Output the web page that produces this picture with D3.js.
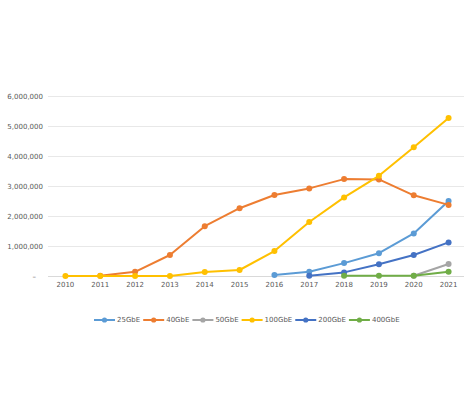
<!DOCTYPE html>
<html>
<head>
<meta charset="utf-8">
<script src="https://cdn.jsdelivr.net/npm/d3@7"></script>
<style>
  body { margin: 0; background: #fff; }
  text { font-family: "DejaVu Sans", sans-serif; }
</style>
</head>
<body>
<div id="chart"></div>
<script>
// Data
const YEARS = ["2010", "2011", "2012", "2013", "2014", "2015", "2016", "2017", "2018", "2019", "2020", "2021"];
const Y_TICKS = [0, 1000000, 2000000, 3000000, 4000000, 5000000, 6000000];
const SERIES_NAMES = ["25GbE", "40GbE", "50GbE", "100GbE", "200GbE", "400GbE"];
const SERIES_COLORS = ["#5b9bd5", "#ed7d31", "#a5a5a5", "#ffc000", "#4472c4", "#70ad47"];

// null = no value that year
const VALUES_25G = [null, null, null, null, null, null, 30000, 140000, 430000, 760000, 1420000, 2500000];
const VALUES_40G = [null, 10000, 140000, 700000, 1660000, 2260000, 2700000, 2920000, 3230000, 3220000, 2690000, 2370000];
const VALUES_50G = [null, null, null, null, null, null, null, null, null, null, 10000, 400000];
const VALUES_100G = [0, 0, 0, 0, 130000, 200000, 830000, 1800000, 2620000, 3340000, 4290000, 5270000];
const VALUES_200G = [null, null, null, null, null, null, null, 10000, 120000, 390000, 700000, 1120000];
const VALUES_400G = [null, null, null, null, null, null, null, null, 10000, 10000, 10000, 140000];

const SERIES_VALUES = [VALUES_25G, VALUES_40G, VALUES_50G, VALUES_100G, VALUES_200G, VALUES_400G];

const WIDTH = 464, HEIGHT = 400;
const PLOT = { left: 48, right: 466, top: 96, bottom: 276 };
const TEXT_COLOR = "#595959";

const svg = d3.select("#chart")
  .append("svg")
  .attr("width", WIDTH)
  .attr("height", HEIGHT);

const x = d3.scaleBand().domain(YEARS).range([PLOT.left, PLOT.right]);
const y = d3.scaleLinear().domain([0, 6000000]).range([PLOT.bottom, PLOT.top]);
const xc = (year) => x(year) + x.bandwidth() / 2;

// gridlines
svg.append("g")
  .selectAll("line")
  .data(Y_TICKS)
  .join("line")
  .attr("x1", PLOT.left)
  .attr("x2", PLOT.right)
  .attr("y1", (d) => Math.round(y(d)) + 0.5)
  .attr("y2", (d) => Math.round(y(d)) + 0.5)
  .attr("stroke", (d) => (d === 0 ? "#d9d9d9" : "#e8e8e8"))
  .attr("stroke-width", 1);

// y axis labels
const yAxis = svg.append("g")
  .attr("transform", `translate(${PLOT.left - 5},0)`)
  .call(d3.axisLeft(y).tickValues(Y_TICKS).tickSize(0).tickPadding(0)
    .tickFormat((d) => (d === 0 ? "–" : d3.format(",")(d))));
yAxis.select(".domain").remove();
yAxis.selectAll("text")
  .attr("fill", TEXT_COLOR)
  .style("font-size", "7px")
  .attr("dx", (d) => (d === 0 ? -7 : 0));

// x axis labels
const xAxis = svg.append("g")
  .attr("transform", `translate(0,${PLOT.bottom + 6})`)
  .call(d3.axisBottom(x).tickSize(0).tickPadding(0));
xAxis.select(".domain").remove();
xAxis.selectAll("text")
  .attr("fill", TEXT_COLOR)
  .style("font-size", "7px");

// lines + markers
const line = d3.line()
  .defined((d) => d.value !== null)
  .x((d) => xc(d.year))
  .y((d) => y(d.value));

SERIES_NAMES.forEach((name, i) => {
  const points = YEARS.map((year, j) => ({ year, value: SERIES_VALUES[i][j] }));
  const g = svg.append("g").attr("class", "series");
  g.append("path")
    .datum(points)
    .attr("fill", "none")
    .attr("stroke", SERIES_COLORS[i])
    .attr("stroke-width", 2)
    .attr("stroke-linejoin", "round")
    .attr("stroke-linecap", "round")
    .attr("d", line);
  g.selectAll("circle")
    .data(points.filter((d) => d.value !== null))
    .join("circle")
    .attr("cx", (d) => xc(d.year))
    .attr("cy", (d) => y(d.value))
    .attr("r", 3)
    .attr("fill", SERIES_COLORS[i]);
});

// legend
const legend = svg.append("g").attr("transform", "translate(94,320)");
let lx = 0;
SERIES_NAMES.forEach((name, i) => {
  const item = legend.append("g").attr("transform", `translate(${lx},0)`);
  item.append("line")
    .attr("x1", 0).attr("x2", 21)
    .attr("stroke", SERIES_COLORS[i])
    .attr("stroke-width", 2);
  item.append("circle")
    .attr("cx", 10.5)
    .attr("r", 2.6)
    .attr("fill", SERIES_COLORS[i]);
  const label = item.append("text")
    .attr("x", 23)
    .attr("dy", "0.35em")
    .attr("fill", TEXT_COLOR)
    .style("font-size", "7px")
    .text(name);
  lx += 23 + label.node().getComputedTextLength() + 3;
});
</script>
</body>
</html>
